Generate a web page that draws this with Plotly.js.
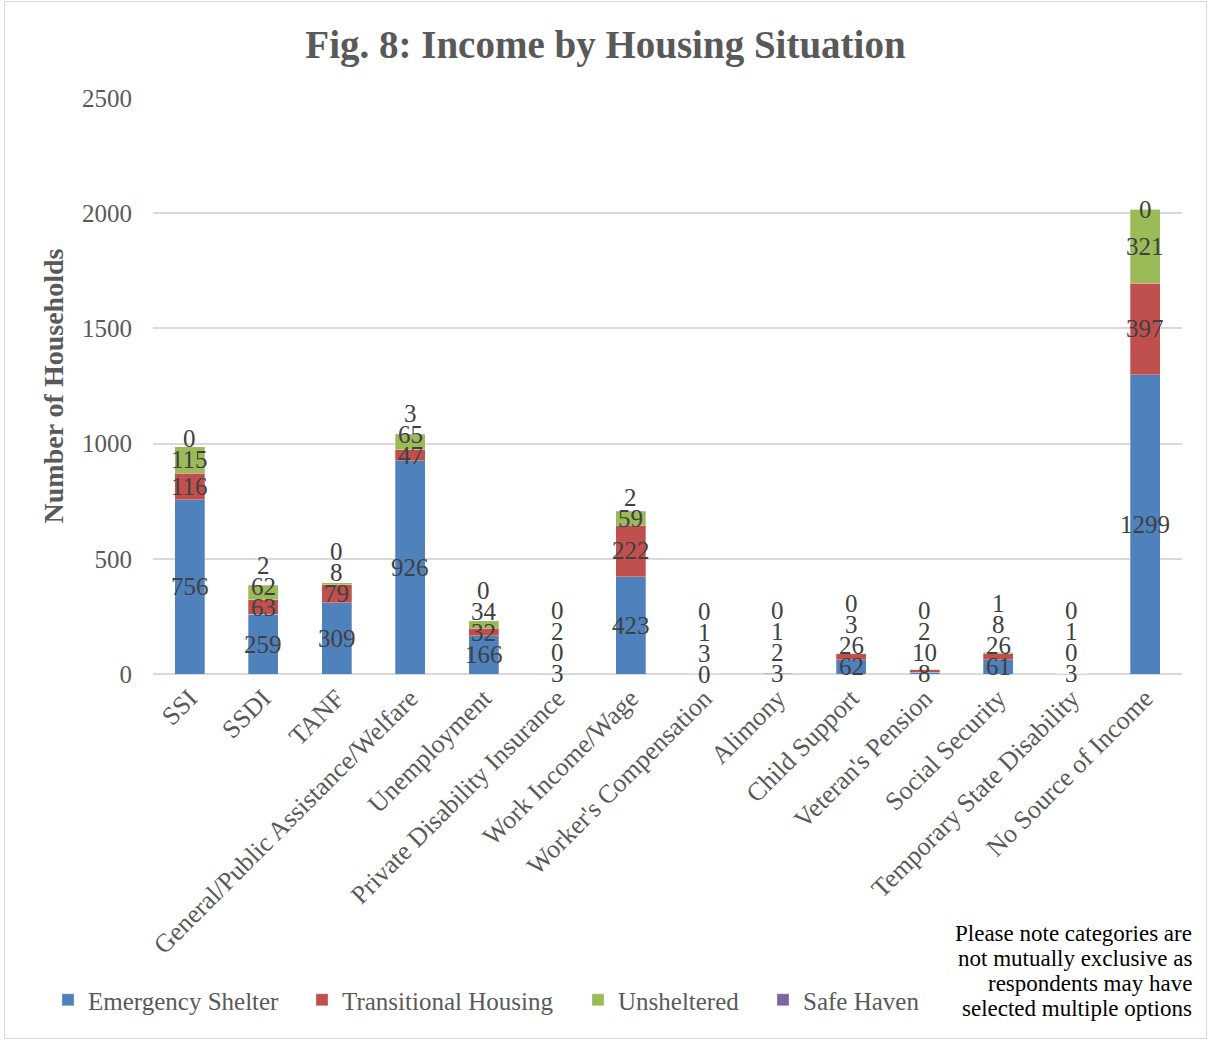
<!DOCTYPE html>
<html>
<head>
<meta charset="utf-8">
<script src="https://cdn.plot.ly/plotly-3.0.1.min.js"></script>
<style>
html, body { margin: 0; padding: 0; background: #ffffff; }
#wrap { position: relative; width: 1211px; height: 1042px; }
#chart { position: absolute; left: 0; top: 0; width: 1211px; height: 1042px; }
#frame { position: absolute; left: 4px; top: 1px; width: 1203px; height: 1038px; border: 1.5px solid #d9d9d9; pointer-events: none; box-sizing: border-box; }
</style>
</head>
<body>
<div id="wrap"><div id="chart"></div><div id="frame"></div></div>
<script>
// ---- data ----
const categories = ["SSI", "SSDI", "TANF", "General/Public Assistance/Welfare", "Unemployment",
  "Private Disability Insurance", "Work Income/Wage", "Worker's Compensation", "Alimony",
  "Child Support", "Veteran's Pension", "Social Security", "Temporary State Disability",
  "No Source of Income"];
const emergencyShelter    = [756, 259, 309, 926, 166, 3, 423, 0, 3, 62, 8, 61, 3, 1299];
const transitionalHousing = [116, 63, 79, 47, 32, 0, 222, 3, 2, 26, 10, 26, 0, 397];
const unsheltered         = [115, 62, 8, 65, 34, 2, 59, 1, 1, 3, 2, 8, 1, 321];
const safeHaven           = [0, 2, 0, 3, 0, 0, 2, 0, 0, 0, 0, 1, 0, 0];
const seriesNames  = ["Emergency Shelter", "Transitional Housing", "Unsheltered", "Safe Haven"];
const seriesColors = ["#4F81BD", "#C0504D", "#9BBB59", "#8064A2"];
const yTicks = [0, 500, 1000, 1500, 2000, 2500];
const titleText = "Fig. 8: Income by Housing Situation";
const yTitleText = "Number of Households";
const noteLines = ["Please note categories are", "not mutually exclusive as",
  "respondents may have", "selected multiple options"];

const series = [emergencyShelter, transitionalHousing, unsheltered, safeHaven];
const FONT = "Liberation Serif, Times New Roman, serif";

const W = 1211, H = 1042;
const margin = {l: 153, r: 29, t: 98, b: 368};
const yMax = 2500;
const plotH = H - margin.t - margin.b;
const plotW = W - margin.l - margin.r;
const unitsPerPx = yMax / plotH;

// one legend per series so each entry sits where the reference puts it
const legendIds = ["legend", "legend2", "legend3", "legend4"];
const legendLeftPx = [48, 302, 578, 763];

const traces = series.map((vals, s) => ({
  type: "bar",
  name: seriesNames[s],
  x: categories,
  y: vals,
  legend: legendIds[s],
  marker: {color: seriesColors[s], line: {color: "rgba(255,255,255,0.35)", width: 0.8}},
  hoverinfo: "x+y+name"
}));

// data labels centred on segments, pushed upward when they would overlap
const annotations = [];
const spacingPx = 21;
categories.forEach((cat, i) => {
  let base = 0;
  let prevPx = -Infinity;
  series.forEach((vals, s) => {
    const v = vals[i];
    const center = base + v / 2;
    let px = center / unitsPerPx;
    if (px < prevPx + spacingPx) px = prevPx + spacingPx;
    prevPx = px;
    annotations.push({
      x: cat, y: px * unitsPerPx, xref: "x", yref: "y",
      text: String(v), showarrow: false,
      font: {family: FONT, size: 25, color: "#404040"},
      xanchor: "center", yanchor: "middle"
    });
    base += v;
  });
});

noteLines.forEach((line, k) => {
  annotations.push({
    xref: "paper", yref: "paper",
    x: (1194 - margin.l) / plotW,
    y: (674 - (933 + 25 * k)) / plotH,
    xanchor: "right", yanchor: "middle", align: "right",
    text: line, showarrow: false,
    font: {family: FONT, size: 23, color: "#000000"}
  });
});

const layout = {
  width: W, height: H,
  margin: margin,
  paper_bgcolor: "#ffffff", plot_bgcolor: "#ffffff",
  barmode: "stack",
  bargap: 0.59,
  title: {
    text: "<b>" + titleText + "</b>",
    font: {family: FONT, size: 39, color: "#595959"},
    x: 0.5, xanchor: "center", xref: "container",
    y: 1 - 44 / H, yanchor: "middle", yref: "container"
  },
  xaxis: {
    tickangle: -45,
    tickfont: {family: FONT, size: 26, color: "#595959"},
    showgrid: false, showline: false, zeroline: false,
    ticks: "", automargin: false, ticklabelstandoff: 3
  },
  yaxis: {
    range: [0, yMax],
    tickvals: yTicks,
    ticktext: yTicks.map(String),
    tickfont: {family: FONT, size: 25, color: "#595959"},
    gridcolor: "#d9d9d9", gridwidth: 1.5,
    zeroline: true, zerolinecolor: "#d9d9d9", zerolinewidth: 1.5,
    showline: false, ticks: "", ticklabelstandoff: 20,
    automargin: false,
    title: {text: "<b>" + yTitleText + "</b>", font: {family: FONT, size: 28, color: "#595959"}, standoff: 10}
  },
  annotations: annotations,
  showlegend: true
};

legendIds.forEach((id, s) => {
  layout[id] = {
    orientation: "h",
    x: (legendLeftPx[s] - margin.l) / plotW,
    y: (674 - 1000) / plotH,
    xanchor: "left", yanchor: "middle",
    font: {family: FONT, size: 25, color: "#595959"},
    bgcolor: "rgba(0,0,0,0)"
  };
});

Plotly.newPlot("chart", traces, layout, {displayModeBar: false, responsive: false});
</script>
</body>
</html>
